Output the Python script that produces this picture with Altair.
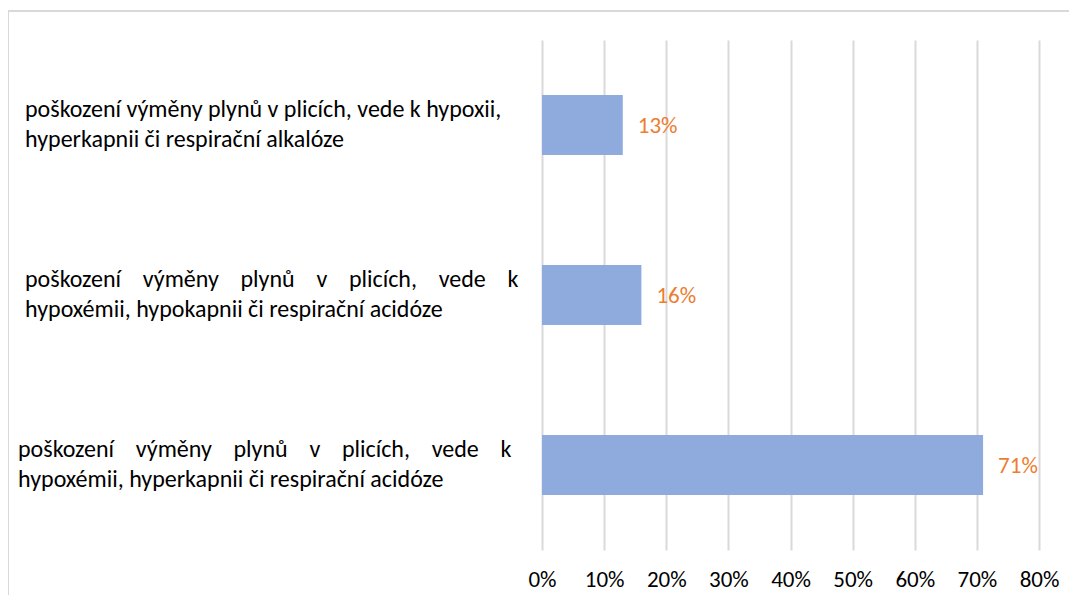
import altair as alt
import pandas as pd

# ---- data ----
row_ids = ["r1", "r2", "r3"]
NB = "\u00a0" * 4  # widened gap to imitate justified first lines
category_lines = [
    "poškození výměny plynů v plicích, vede k hypoxii,\nhyperkapnii či respirační alkalóze",
    NB.join("poškození výměny plynů v plicích, vede k".split(" "))
    + "\nhypoxémii, hypokapnii či respirační acidóze",
    NB.join("poškození výměny plynů v plicích, vede k".split(" "))
    + "\nhypoxémii, hyperkapnii či respirační acidóze",
]
values = [13, 16, 71]
value_labels = ["13%", "16%", "71%"]
x_ticks = [0, 10, 20, 30, 40, 50, 60, 70, 80]

FONT = "Carlito, Calibri, Lato, sans-serif"
W, H = 497, 510

df = pd.DataFrame({"row": row_ids, "label": category_lines,
                   "value": values, "vlabel": value_labels})

y_enc = alt.Y("row:N", sort=row_ids, axis=None,
              scale=alt.Scale(paddingInner=0.647, paddingOuter=0.3235))

base = alt.Chart(df)

bars = base.mark_bar(color="#8faadc").encode(
    x=alt.X("value:Q",
            scale=alt.Scale(domain=[0, 80], nice=False),
            axis=alt.Axis(values=x_ticks, labelExpr="datum.value + '%'",
                          title=None, domain=False, ticks=False,
                          grid=True, gridColor="#d9d9d9", gridWidth=2,
                          labelFont=FONT, labelFontSize=23, labelColor="#000000",
                          labelPadding=18, labelOverlap=False,
                          labelBound=False, labelFlush=False)),
    y=y_enc,
)

vals = base.mark_text(align="left", baseline="middle", dx=15, dy=1,
                      color="#ed7d31", font=FONT, fontSize=23).encode(
    x="value:Q", y=y_enc, text="vlabel:N")

cat_style = dict(align="left", baseline="middle", lineBreak="\n",
                 lineHeight=30, dy=-15, color="#000000", font=FONT, fontSize=24)

cats_a = base.transform_filter("datum.row != 'r3'").mark_text(**cat_style).encode(
    x=alt.value(-517), y=y_enc, text="label:N")
cats_b = base.transform_filter("datum.row == 'r3'").mark_text(**cat_style).encode(
    x=alt.value(-524), y=y_enc, text="label:N")

frame_data = alt.Data(values=[{"a": 1}])
top_line = alt.Chart(frame_data).mark_rule(color="#d9d9d9", strokeWidth=2).encode(
    x=alt.value(-534), x2=alt.value(W + 40), y=alt.value(-29))
left_line = alt.Chart(frame_data).mark_rule(color="#d9d9d9", strokeWidth=2).encode(
    x=alt.value(-534), y=alt.value(-29), y2=alt.value(H + 60))

chart = alt.layer(top_line, left_line, bars, vals, cats_a, cats_b).properties(
    width=W, height=H,
    autosize=alt.AutoSizeParams(type="none"),
    padding={"left": 534, "top": 32, "right": 30, "bottom": 45},
).configure_view(stroke=None)

chart.save("out.html", embed_options={"renderer": "svg", "actions": False})
